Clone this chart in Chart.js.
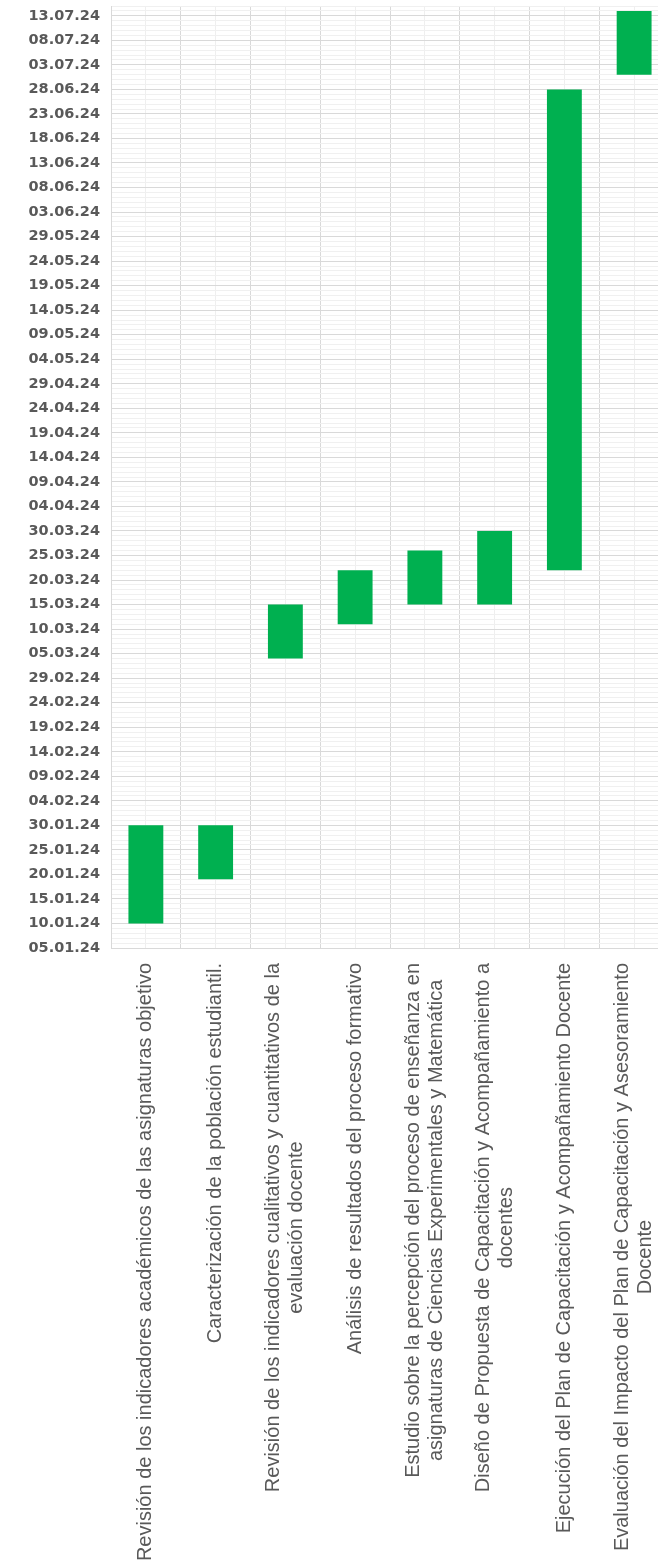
<!DOCTYPE html>
<html>
<head>
<meta charset="utf-8">
<script src="https://cdn.jsdelivr.net/npm/chart.js@4.4.1/dist/chart.umd.min.js"></script>
<style>
  html, body { margin: 0; padding: 0; background: #ffffff; overflow: hidden; }
  #wrap { position: absolute; left: 0; top: 0; width: 670px; height: 1564px; }
</style>
</head>
<body>
<div id="wrap"><canvas id="c" width="670" height="1564"></canvas></div>
<script>
// ---- Data ----
const taskLabels = [
  'Revisión de los indicadores académicos de las asignaturas objetivo',
  'Caracterización de la población estudiantil.',
  ['Revisión de los indicadores cualitativos y cuantitativos de la', 'evaluación docente'],
  'Análisis de resultados del proceso formativo',
  ['Estudio sobre la percepción del proceso de enseñanza en', 'asignaturas de Ciencias Experimentales y Matemática'],
  ['Diseño de Propuesta de Capacitación y Acompañamiento a', 'docentes'],
  'Ejecución del Plan de Capacitación y Acompañamiento Docente',
  ['Evaluación del Impacto del Plan de Capacitación y Asesoramiento', 'Docente']
];
const startDates = ['10.01.24', '19.01.24', '04.03.24', '11.03.24', '15.03.24', '15.03.24', '22.03.24', '01.07.24'];
const endDates   = ['30.01.24', '30.01.24', '15.03.24', '22.03.24', '26.03.24', '30.03.24', '28.06.24', '14.07.24'];
const axisStart = '05.01.24';   // first tick label
const axisEnd   = '15.07.24';   // top of the plot
const tickEveryDays = 5;

// ---- helpers ----
function parseD(s) {
  const [d, m, y] = s.split('.').map(Number);
  return Date.UTC(2000 + y, m - 1, d);
}
const base = parseD(axisStart);
const dayOf = s => Math.round((parseD(s) - base) / 86400000);
function fmt(days) {
  const dt = new Date(base + days * 86400000);
  const dd = String(dt.getUTCDate()).padStart(2, '0');
  const mm = String(dt.getUTCMonth() + 1).padStart(2, '0');
  const yy = String(dt.getUTCFullYear() % 100).padStart(2, '0');
  return dd + '.' + mm + '.' + yy;
}
const barData = startDates.map((s, i) => [dayOf(s), dayOf(endDates[i])]);

const xLabelPlugin = {
  id: 'xLabels',
  afterDraw(chart) {
    const sc = chart.scales.x;
    const ctx = chart.ctx;
    ctx.save();
    ctx.font = '20px "Liberation Sans", Arial, sans-serif';
    ctx.fillStyle = '#595959';
    ctx.textBaseline = 'middle';
    ctx.textAlign = 'center';
    const lh = 23;
    const top = chart.chartArea.bottom + 15;
    taskLabels.forEach((lab, i) => {
      const lines = Array.isArray(lab) ? lab : [lab];
      const maxW = Math.max(...lines.map(l => ctx.measureText(l).width));
      const x = sc.getPixelForValue(i);
      ctx.save();
      ctx.translate(x, top);
      ctx.rotate(-Math.PI / 2);
      lines.forEach((l, j) => {
        ctx.fillText(l, -maxW / 2, (j - (lines.length - 1) / 2) * lh);
      });
      ctx.restore();
    });
    ctx.restore();
  }
};

new Chart(document.getElementById('c'), {
  type: 'bar',
  data: {
    labels: taskLabels.map(l => Array.isArray(l) ? l.join(' ') : l),
    datasets: [{
      data: barData,
      backgroundColor: '#00B050',
      borderWidth: 0,
      borderSkipped: false,
      barPercentage: 0.5,
      categoryPercentage: 1.0
    }]
  },
  options: {
    responsive: false,
    animation: false,
    devicePixelRatio: 1,
    layout: { padding: { left: 0, top: 6, right: 1, bottom: 0 } },
    plugins: { legend: { display: false }, tooltip: { enabled: false } },
    scales: {
      x: {
        type: 'category',
        offset: true,
        grid: { offset: true, color: '#d9d9d9', lineWidth: 1, drawTicks: false },
        border: { display: true, color: '#d9d9d9' },
        ticks: { display: false },
        afterFit: s => { s.height = 616; s.paddingLeft = 0; s.paddingRight = 0; }
      },
      x2: {
        type: 'category',
        axis: 'x',
        position: 'top',
        offset: true,
        labels: taskLabels.map((l, i) => String(i)),
        grid: { offset: false, color: '#efefef', lineWidth: 1, drawTicks: false },
        border: { display: false },
        ticks: { display: false }
      },
      y: {
        type: 'linear',
        min: 0,
        max: dayOf(axisEnd),
        border: { display: true, color: '#d9d9d9' },
        grid: {
          drawTicks: false,
          color: c => (c.tick && c.tick.value % tickEveryDays === 0) ? '#d9d9d9' : '#f0f0f0',
          lineWidth: 1
        },
        ticks: {
          stepSize: 1,
          autoSkip: false,
          padding: 11,
          color: '#595959',
          font: { family: '"DejaVu Sans", Verdana, sans-serif', size: 14.5, weight: 'bold' },
          callback: v => (v % tickEveryDays === 0 && v <= dayOf(axisEnd) - 1) ? fmt(v) : ''
        },
        afterFit: s => { s.width = 111; s.paddingTop = 0; s.paddingBottom = 0; }
      }
    }
  },
  plugins: [xLabelPlugin]
});
</script>
</body>
</html>
